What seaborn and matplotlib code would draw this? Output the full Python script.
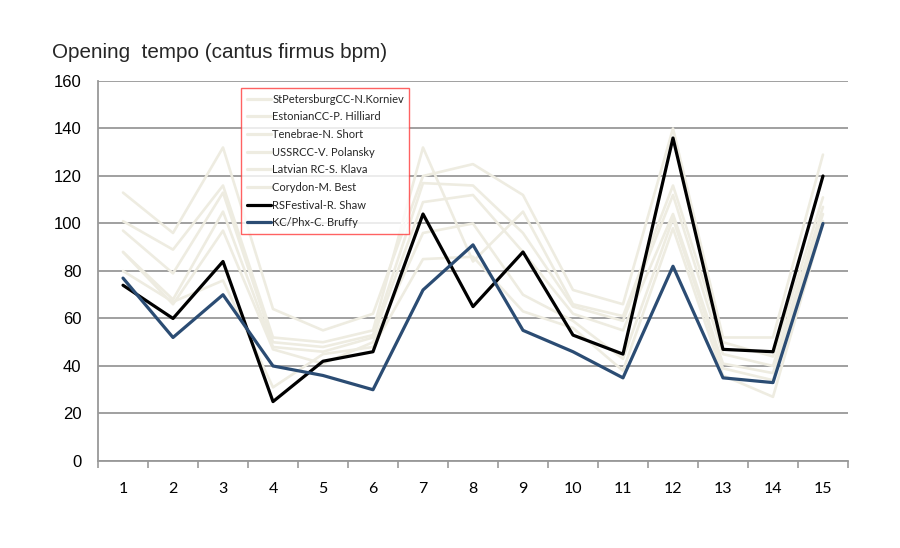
import matplotlib
matplotlib.use("Agg")
import matplotlib.pyplot as plt
import seaborn as sns
import pandas as pd
from matplotlib.ticker import FixedLocator

# ---- data ----
sections = list(range(1, 16))
series_names = [
    "StPetersburgCC-N.Korniev",
    "EstonianCC-P. Hilliard",
    "Tenebrae-N. Short",
    "USSRCC-V. Polansky",
    "Latvian RC-S. Klava",
    "Corydon-M. Best",
    "RSFestival-R. Shaw",
    "KC/Phx-C. Bruffy",
]
korniev  = [113, 96, 132, 64, 55, 62, 120, 125, 112, 72, 66, 140, 52, 52, 129]
hilliard = [101, 89, 116, 52, 50, 55, 132, 84, 105, 66, 61, 116, 50, 44, 111]
short    = [97, 79, 113, 50, 48, 53, 117, 116, 96, 65, 59, 112, 45, 40, 107]
polansky = [88, 68, 105, 48, 46, 52, 109, 112, 88, 62, 55, 104, 41, 37, 104]
klava    = [88, 66, 97, 47, 41, 50, 96, 100, 70, 59, 43, 102, 39, 34, 101]
best     = [80, 67, 76, 31, 45, 48, 85, 86, 63, 56, 38, 98, 36, 27, 100]
shaw     = [74, 60, 84, 25, 42, 46, 104, 65, 88, 53, 45, 136, 47, 46, 120]
bruffy   = [77, 52, 70, 40, 36, 30, 72, 91, 55, 46, 35, 82, 35, 33, 100]
y_ticks = [0, 20, 40, 60, 80, 100, 120, 140, 160]
title = "Opening  tempo (cantus firmus bpm)"

all_values = [korniev, hilliard, short, polansky, klava, best, shaw, bruffy]
rows = []
for name, vals in zip(series_names, all_values):
    for s, v in zip(sections, vals):
        rows.append({"section": s, "bpm": v, "series": name})
df = pd.DataFrame(rows)

light = "#EEECE1"
palette = {n: light for n in series_names[:6]}
palette["RSFestival-R. Shaw"] = "#000000"
palette["KC/Phx-C. Bruffy"] = "#2B4C73"

sns.set_style("white")
plt.rcParams["font.family"] = ["Liberation Sans", "DejaVu Sans"]

fig = plt.figure(figsize=(9, 5.48), dpi=100)
ax = fig.add_axes([0.1089, 0.1588, 0.8333, 0.6934])

for n in series_names:
    sub = df[df["series"] == n]
    lw = 2.3 if n in ("RSFestival-R. Shaw", "KC/Phx-C. Bruffy") else 1.9
    sns.lineplot(data=sub, x="section", y="bpm", color=palette[n], lw=lw,
                 ax=ax, label=n, zorder=3 if lw > 2 else 2)

ax.set_xlim(0.5, 15.5)
ax.set_ylim(0, 160)
ax.set_xlabel("")
ax.set_ylabel("")
ax.set_yticks(y_ticks)
ax.yaxis.grid(True, color="#999999", lw=1.3)
ax.set_axisbelow(True)
ax.set_xticks(sections)
ax.set_xticklabels([str(s) for s in sections], fontfamily="Lato", fontsize=11.5)
ax.xaxis.set_minor_locator(FixedLocator([s + 0.5 for s in [0] + sections]))
ax.tick_params(axis="x", which="major", length=0, pad=15, colors="black")
ax.tick_params(axis="x", which="minor", length=5, width=1.2, color="#999999", direction="out")
ax.tick_params(axis="y", length=5, width=1.2, color="#999999", direction="out",
               pad=7, labelsize=12, labelcolor="black")
ax.xaxis.set_tick_params(which="minor", bottom=True)
for sp in ["top", "right"]:
    ax.spines[sp].set_visible(False)
for sp in ["left", "bottom"]:
    ax.spines[sp].set_color("#999999")
    ax.spines[sp].set_linewidth(1.3)

fig.text(0.058, 0.905, title, fontsize=14.9, ha="left", va="center")

leg = ax.legend(loc="upper left", bbox_to_anchor=(241 / 900, 1 - 88 / 548),
                bbox_transform=fig.transFigure, frameon=True, fancybox=False,
                prop={"family": "Lato", "size": 8}, labelspacing=0.6,
                handlelength=2.2, handletextpad=0.1, borderpad=0.5,
                borderaxespad=0)
leg.get_frame().set_edgecolor("#FF3B3B")
leg.get_frame().set_linewidth(1.0)
for line in leg.get_lines():
    line.set_linewidth(2.3)

fig.savefig("out.png", dpi=100, facecolor="white")
